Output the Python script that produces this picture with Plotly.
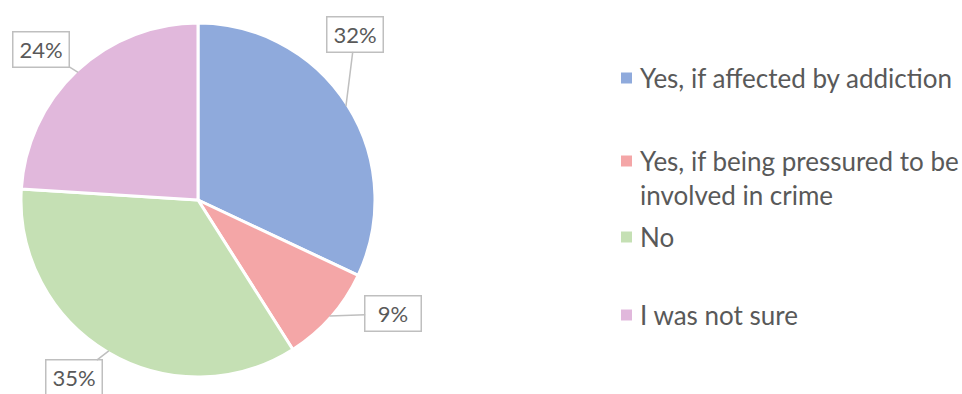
import math
import plotly.graph_objects as go

# Survey responses
categories = [
    "Yes, if affected by addiction",
    "Yes, if being pressured to be involved in crime",
    "No",
    "I was not sure",
]
legend_labels = [
    "Yes, if affected by addiction",
    "Yes, if being pressured to be<br>involved in crime",
    "No",
    "I was not sure",
]
shares = [32, 9, 35, 24]
slice_colors = ["#8FAADC", "#F4A6A7", "#C5E0B4", "#E1B8DC"]

W, H = 962, 394
FONT = "Lato"
TEXT_COLOR = "#595959"
BOX_COLOR = "#BFBFBF"
LEGEND_SIZE = 26
LINE_HEIGHT = 1.3 * LEGEND_SIZE  # plotly's multi-line spacing

# pie geometry in pixels
cx, cy, R = 198, 200, 177

# callout box offsets (px) from the slice edge point
callout_offsets = [(9, -72), (64, -2), (-35, 27), (-37, -23)]

# legend layout (px)
legend_marker_x = 621
legend_text_x = 638
legend_row_y = [78, 161, 237, 315]


def px_x(x):
    return x / W


def px_y(y):
    return 1 - y / H


fig = go.Figure(
    go.Pie(
        labels=categories,
        values=shares,
        sort=False,
        direction="clockwise",
        rotation=0,
        marker=dict(colors=slice_colors, line=dict(color="white", width=3)),
        textinfo="none",
        hoverinfo="label+percent",
        showlegend=False,
        domain=dict(
            x=[px_x(cx - R), px_x(cx + R)],
            y=[px_y(cy + R), px_y(cy - R)],
        ),
    )
)

annotations = []
shapes = []

# percentage callouts
total = sum(shares)
start = 0.0
for v, (ox, oy) in zip(shares, callout_offsets):
    sweep = 360.0 * v / total
    mid = math.radians(start + sweep / 2)
    start += sweep
    ex = cx + R * 0.99 * math.sin(mid)
    ey = cy - R * 0.99 * math.cos(mid)
    annotations.append(
        dict(
            x=px_x(ex),
            y=px_y(ey),
            xref="paper",
            yref="paper",
            ax=ox,
            ay=oy,
            text=f"{v}%",
            showarrow=True,
            arrowhead=0,
            arrowwidth=1.5,
            arrowcolor=BOX_COLOR,
            standoff=0,
            startstandoff=0,
            bgcolor="white",
            bordercolor=BOX_COLOR,
            borderwidth=1.5,
            borderpad=0,
            width=55,
            height=34,
            font=dict(family=FONT, size=22, color=TEXT_COLOR),
        )
    )

# legend
for label, color, y in zip(legend_labels, slice_colors, legend_row_y):
    shapes.append(
        dict(
            type="rect",
            xref="paper",
            yref="paper",
            x0=px_x(legend_marker_x),
            x1=px_x(legend_marker_x + 11),
            y0=px_y(y + 5.5),
            y1=px_y(y - 5.5),
            fillcolor=color,
            line=dict(width=0),
        )
    )
    n_lines = label.count("<br>") + 1
    annotations.append(
        dict(
            x=px_x(legend_text_x),
            y=px_y(y + (n_lines - 1) * LINE_HEIGHT / 2),
            xref="paper",
            yref="paper",
            xanchor="left",
            yanchor="middle",
            align="left",
            showarrow=False,
            text=label,
            font=dict(family=FONT, size=LEGEND_SIZE, color=TEXT_COLOR),
        )
    )

fig.update_layout(
    width=W,
    height=H,
    margin=dict(l=0, r=0, t=0, b=0),
    paper_bgcolor="white",
    plot_bgcolor="white",
    annotations=annotations,
    shapes=shapes,
)

fig.write_html("out.html")
